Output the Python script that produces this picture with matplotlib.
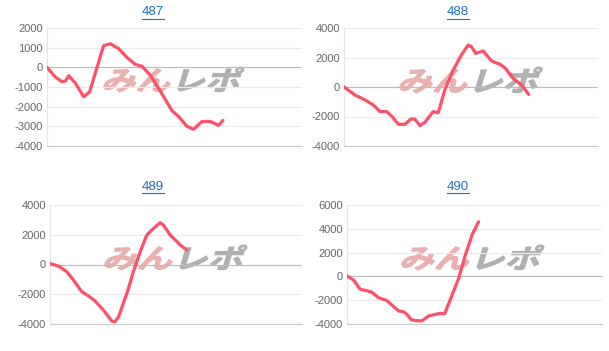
import numpy as np
import matplotlib
matplotlib.use("Agg")
import matplotlib.pyplot as plt
from matplotlib.lines import Line2D
from matplotlib.textpath import TextPath
from matplotlib.patches import PathPatch
from matplotlib.font_manager import FontProperties
from matplotlib.transforms import Affine2D, IdentityTransform

plt.rcParams['font.family'] = ['Liberation Sans', 'DejaVu Sans']

titles = ["487", "488", "489", "490"]

# x as percent of the game-count axis, y as medal difference
x487 = [0, 3.3, 5.9, 7.2, 8.5, 11.1, 14.4, 16.7, 22.2, 24.8, 28.1, 31.4, 34.6, 37.3,
        40.5, 44.4, 49.0, 51.6, 54.9, 57.5, 60.8, 64.0, 67.3, 69.0]
y487 = [0, -500, -730, -700, -430, -800, -1500, -1250, 1100, 1200, 950, 500, 150, 50,
        -400, -1200, -2200, -2500, -3000, -3150, -2750, -2750, -2950, -2700]

x488 = [0, 4.3, 8.3, 11.5, 14.2, 16.8, 19.0, 21.4, 24.0, 26.3, 27.9, 29.9, 31.8, 35.1,
        37.1, 39.7, 43.0, 46.2, 48.9, 50.2, 51.8, 54.8, 58.1, 61.3, 63.3, 66.6, 69.9, 72.7]
y488 = [0, -540, -880, -1220, -1670, -1670, -2010, -2530, -2530, -2170, -2170, -2620,
        -2400, -1670, -1740, -200, 1150, 2170, 2850, 2730, 2280, 2440, 1760, 1540, 1310,
        590, 135, -500]

x489 = [0, 3.3, 6.6, 9.3, 12.6, 15.2, 17.9, 21.2, 24.5, 25.8, 27.2, 30.5, 33.1, 35.8,
        38.4, 41.1, 43.7, 45.0, 47.7, 49.7, 51.7, 54.3]
y489 = [60, -100, -480, -1040, -1830, -2100, -2460, -3060, -3800, -3850, -3510, -1950,
        -480, 860, 1980, 2430, 2810, 2650, 1980, 1650, 1310, 970]

x490 = [0, 2.6, 5.2, 7.8, 9.8, 12.4, 15.7, 17.6, 20.3, 22.2, 23.5, 25.2, 27.5, 29.4,
        32.0, 34.6, 36.6, 38.3, 41.2, 43.8, 46.4, 49.0, 51.6]
y490 = [50, -310, -1090, -1200, -1340, -1790, -2040, -2410, -2910, -2970, -3190, -3640,
        -3730, -3730, -3330, -3190, -3110, -3140, -1570, -170, 1790, 3470, 4590]

xs = [x487, x488, x489, x490]
ys = [y487, y488, y489, y490]
yticks = [np.arange(-4000, 2001, 1000), np.arange(-4000, 4001, 2000),
          np.arange(-4000, 4001, 2000), np.arange(-4000, 6001, 2000)]

W, H = 609, 351
fig = plt.figure(figsize=(W / 100, H / 100), dpi=100)

# axes boxes in pixels: left, top, right, bottom
boxes = [(47, 28, 302, 146), (344, 28, 598, 146),
         (50, 205, 302, 324), (347, 205, 602, 324)]
cells = [(0, 0), (305, 0), (0, 175), (305, 175)]
# watermark boxes in pixels: left, top, right, bottom
marks = [(102, 67, 245, 92), (398, 67, 543, 93),
         (103, 245, 248, 270), (400, 245, 545, 270)]

line_col = '#ff4f6b'
fp = FontProperties(family='Noto Sans CJK JP', weight='bold')
p1 = TextPath((0, 0), "みん", size=30, prop=fp)
p2 = TextPath((0, 0), "レポ", size=30, prop=fp)
p2 = p2.transformed(Affine2D().translate(p1.get_extents().x1 + 2, 0))
ext = p1.get_extents().union([p1.get_extents(), p2.get_extents()])


def add_mark(box):
    l, t, r, b = box
    sx = (r - l - 8) / ext.width
    sy = (b - t) / ext.height
    tr = (Affine2D().translate(-ext.x0, -ext.y0).scale(sx, sy)
          .skew_deg(17, 0).translate(l, H - b))
    for p, c in [(p1, '#e9b0b0'), (p2, '#b0b0b0')]:
        fig.add_artist(PathPatch(p.transformed(tr), transform=IdentityTransform(),
                                 fc=c, ec=c, lw=0.8, zorder=0))


titles_txt = []
for i in range(4):
    l, t, r, b = boxes[i]
    add_mark(marks[i])
    ax = fig.add_axes([l / W, 1 - b / H, (r - l) / W, (b - t) / H])
    ax.set_xlim(0, 100)
    ax.set_ylim(yticks[i][0], yticks[i][-1])
    ax.set_yticks(yticks[i])
    ax.set_yticklabels([str(v) for v in yticks[i]], fontsize=8, color='#666666')
    ax.set_xticks([])
    ax.tick_params(axis='y', length=0, pad=3)
    for s in ['top', 'right']:
        ax.spines[s].set_visible(False)
    ax.spines['left'].set_color('#e6e6e6')
    ax.spines['bottom'].set_color('#cccccc')
    ax.grid(axis='y', color='#ebebeb', lw=0.8)
    ax.axhline(0, color='#bbbbbb', lw=0.8, zorder=1)
    ax.set_axisbelow(True)
    ax.patch.set_alpha(0)
    ax.plot(xs[i], ys[i], color=line_col, lw=2.3, solid_capstyle='round',
            solid_joinstyle='round', zorder=3)

    cxp, cyp = cells[i]
    tt = fig.text((cxp + 153) / W, 1 - (cyp + 12) / H, titles[i], fontsize=9.5,
                  color='#1f6fc5', ha='center', va='center')
    titles_txt.append(tt)

fig.canvas.draw()
rend = fig.canvas.get_renderer()
for tt in titles_txt:
    bb = tt.get_window_extent(rend)
    yy = bb.y0 - 0.5
    fig.add_artist(Line2D([bb.x0 / W, bb.x1 / W], [yy / H, yy / H], color='#1f6fc5',
                          lw=0.8, transform=fig.transFigure))

fig.savefig("out.png", dpi=100)
